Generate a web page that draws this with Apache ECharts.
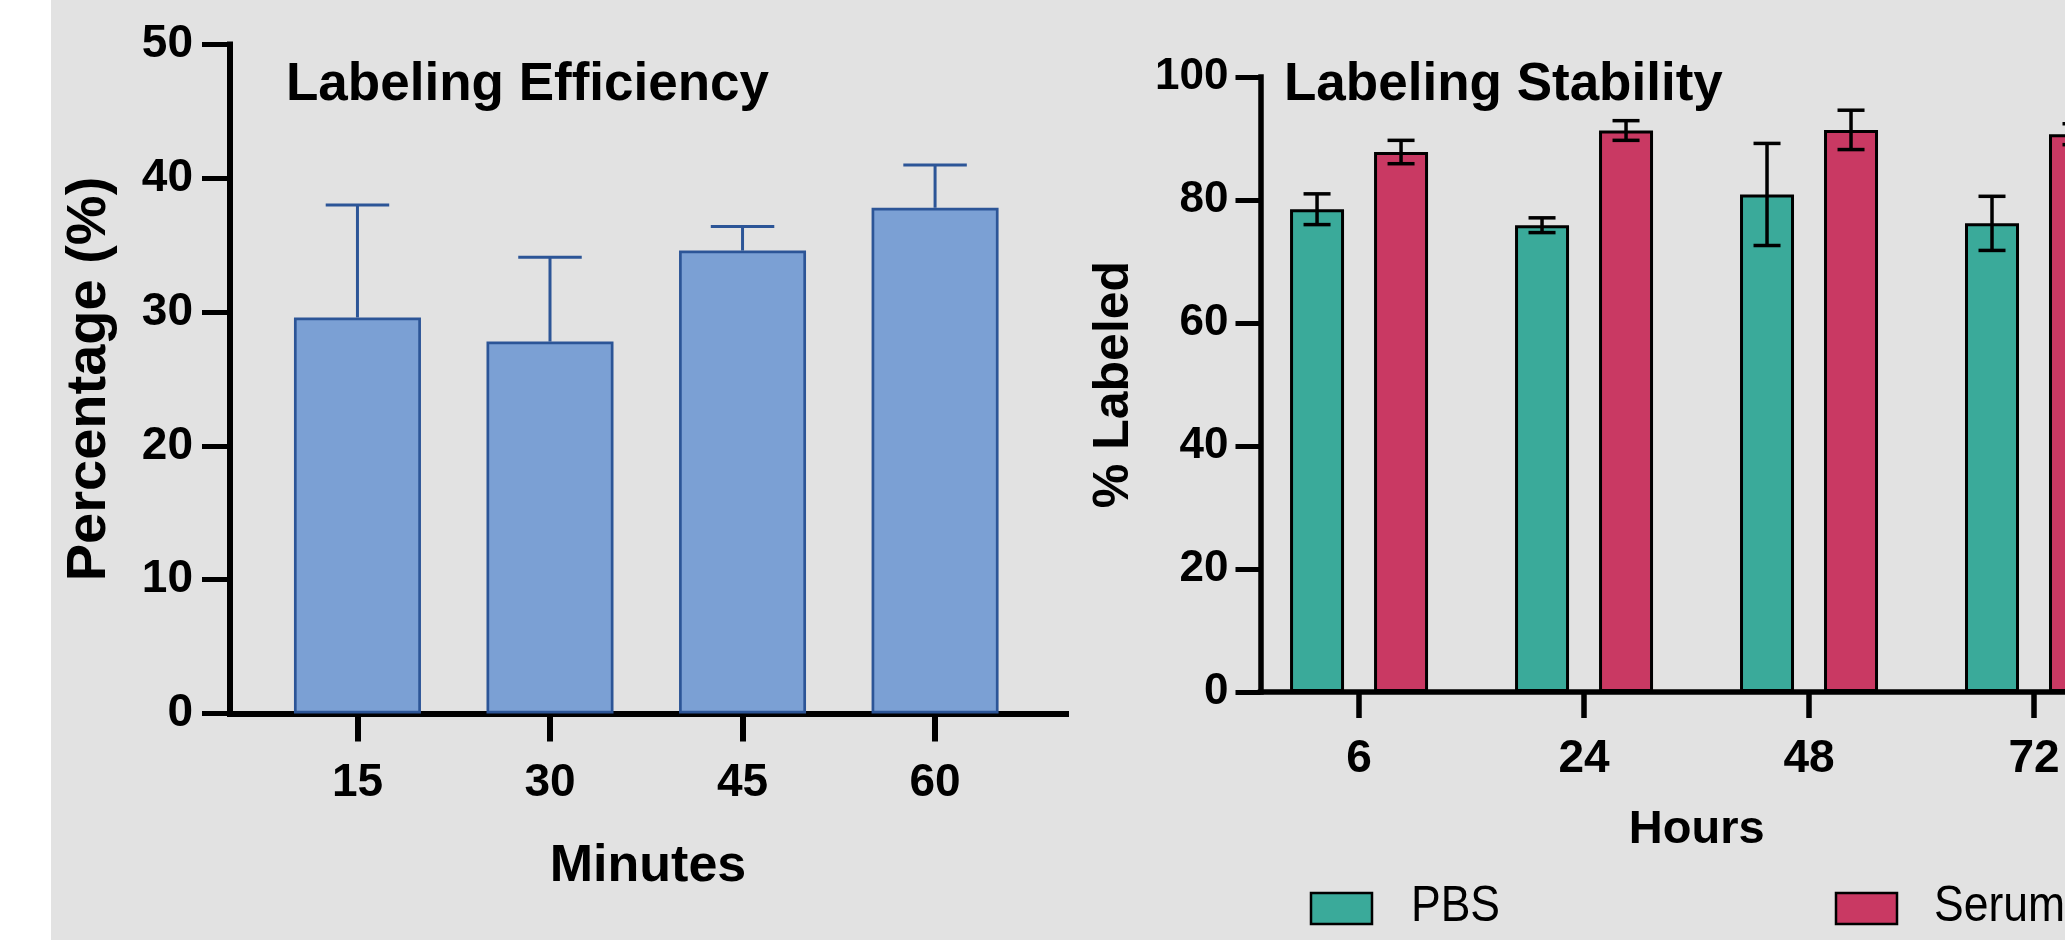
<!DOCTYPE html>
<html>
<head>
<meta charset="utf-8">
<title>Labeling Efficiency and Stability</title>
<script src="https://cdn.jsdelivr.net/npm/echarts@6/dist/echarts.min.js"></script>
<style>
  html, body { margin: 0; padding: 0; overflow: hidden; background: #ffffff; }
  #chart {
    width: 2065px; height: 940px;
    background: linear-gradient(to right, #ffffff 0 51px, #e2e2e2 51px);
  }
</style>
</head>
<body>
<div id="chart"></div>
<script>
// ---- data ----
const minutes = ['15', '30', '45', '60'];
const efficiency = [29.6, 27.8, 34.6, 37.8];
const efficiencySd = [8.4, 6.3, 1.8, 3.2];

const hours = ['6', '24', '48', '72'];
const seriesNames = ['PBS', 'Serum'];
const pbs = [78.5, 75.9, 80.9, 76.2];
const pbsSd = [2.5, 1.2, 8.3, 4.4];
const serum = [87.8, 91.3, 91.4, 90.7];
const serumSd = [1.9, 1.6, 3.2, 1.7];

// ---- styling ----
const FONT = "'Liberation Sans', Arial, Helvetica, sans-serif";
const BLUE_FILL = '#7ba0d4';
const BLUE_EDGE = '#2c5597';
const TEAL = '#3aaa9a';
const CRIMSON = '#c93963';

const EFF_BAR_W = 127;
const STAB_BAR_W = 54;
const STAB_GAP = 30;
const STAB_OFFSET = (STAB_BAR_W + STAB_GAP) / 2;

const idx = arr => arr.map((_, i) => i);

function errorBars(offsetPx, capWidth, color, lineWidth, upperOnly) {
  return function (params, api) {
    const x = api.value(0), m = api.value(1), sd = api.value(2);
    const top = api.coord([x, m + sd]);
    const mid = api.coord([x, m]);
    const bot = api.coord([x, m - sd]);
    const cx = top[0] + offsetPx;
    const half = capWidth / 2;
    const style = { stroke: color, lineWidth: lineWidth, lineCap: 'butt' };
    const children = [
      { type: 'line', shape: { x1: cx, y1: upperOnly ? mid[1] : bot[1], x2: cx, y2: top[1] }, style },
      { type: 'line', shape: { x1: cx - half, y1: top[1], x2: cx + half, y2: top[1] }, style }
    ];
    if (!upperOnly) {
      children.push({ type: 'line', shape: { x1: cx - half, y1: bot[1], x2: cx + half, y2: bot[1] }, style });
    }
    return { type: 'group', children };
  };
}

function axisLineStyle(w) {
  return { show: true, onZero: false, lineStyle: { color: '#000', width: w, cap: 'square' } };
}

const chart = echarts.init(document.getElementById('chart'), null, { renderer: 'canvas' });

const option = {
  backgroundColor: 'transparent',
  animation: false,
  textStyle: { fontFamily: FONT },
  title: [
    {
      text: 'Labeling Efficiency', left: 286, top: 59, padding: 0,
      textStyle: { fontFamily: FONT, fontSize: 53, fontWeight: 'bold', color: '#000' }
    },
    {
      text: 'Labeling Stability', left: 1284, top: 59, padding: 0,
      textStyle: { fontFamily: FONT, fontSize: 53, fontWeight: 'bold', color: '#000' }
    }
  ],
  grid: [
    { left: 230, top: 44.5, width: 836, height: 669, containLabel: false, outerBoundsMode: 'none' },
    { left: 1260.5, top: 77, width: 872.5, height: 615, containLabel: false, outerBoundsMode: 'none' }
  ],
  xAxis: [
    {
      gridIndex: 0, type: 'value', min: -0.662, max: 3.68,
      name: 'Minutes', nameLocation: 'middle', nameGap: 127,
      nameTextStyle: { fontFamily: FONT, fontSize: 52, fontWeight: 'bold', color: '#000' },
      axisLine: axisLineStyle(6),
      axisTick: { show: true, customValues: idx(minutes), length: 28, lineStyle: { color: '#000', width: 6 } },
      axisLabel: {
        show: true, customValues: idx(minutes), margin: 47,
        formatter: v => minutes[Math.round(v)],
        fontFamily: FONT, fontSize: 46, fontWeight: 'bold', color: '#000'
      },
      splitLine: { show: false }
    },
    {
      gridIndex: 1, type: 'value', min: -0.438, max: 3.44,
      name: 'Hours', nameLocation: 'middle', nameGap: 115,
      nameTextStyle: { fontFamily: FONT, fontSize: 47, fontWeight: 'bold', color: '#000' },
      axisLine: axisLineStyle(5.5),
      axisTick: { show: true, customValues: idx(hours), length: 26, lineStyle: { color: '#000', width: 5.5 } },
      axisLabel: {
        show: true, customValues: idx(hours), margin: 44,
        formatter: v => hours[Math.round(v)],
        fontFamily: FONT, fontSize: 46, fontWeight: 'bold', color: '#000'
      },
      splitLine: { show: false }
    }
  ],
  yAxis: [
    {
      gridIndex: 0, type: 'value', min: 0, max: 50, interval: 10,
      name: 'Percentage (%)', nameLocation: 'middle', nameGap: 112,
      nameTextStyle: { fontFamily: FONT, fontSize: 56, fontWeight: 'bold', color: '#000' },
      axisLine: axisLineStyle(6),
      axisTick: { show: true, length: 28, lineStyle: { color: '#000', width: 5 } },
      axisLabel: { margin: 37, fontFamily: FONT, fontSize: 46, fontWeight: 'bold', color: '#000' },
      splitLine: { show: false }
    },
    {
      gridIndex: 1, type: 'value', min: 0, max: 100, interval: 20,
      name: '% Labeled', nameLocation: 'middle', nameGap: 121,
      nameTextStyle: { fontFamily: FONT, fontSize: 50, fontWeight: 'bold', color: '#000' },
      axisLine: axisLineStyle(5.5),
      axisTick: { show: true, length: 25, lineStyle: { color: '#000', width: 5 } },
      axisLabel: { margin: 32, fontFamily: FONT, fontSize: 44, fontWeight: 'bold', color: '#000' },
      splitLine: { show: false }
    }
  ],
  series: [
    {
      name: 'Labeling Efficiency', type: 'bar', xAxisIndex: 0, yAxisIndex: 0,
      barWidth: EFF_BAR_W,
      itemStyle: { color: BLUE_FILL, borderColor: BLUE_EDGE, borderWidth: 2.7 },
      data: efficiency.map((v, i) => [i, v]),
      z: 2
    },
    {
      name: 'Efficiency SD', type: 'custom', xAxisIndex: 0, yAxisIndex: 0,
      renderItem: errorBars(0, EFF_BAR_W / 2, BLUE_EDGE, 3, true),
      data: efficiency.map((v, i) => [i, v, efficiencySd[i]]),
      encode: { x: 0, y: 1 },
      z: 3
    },
    {
      name: seriesNames[0], type: 'bar', xAxisIndex: 1, yAxisIndex: 1,
      barWidth: STAB_BAR_W, barGap: (STAB_GAP / STAB_BAR_W * 100) + '%',
      itemStyle: { color: TEAL, borderColor: '#000', borderWidth: 3 },
      data: pbs.map((v, i) => [i, v]),
      z: 2
    },
    {
      name: seriesNames[1], type: 'bar', xAxisIndex: 1, yAxisIndex: 1,
      barWidth: STAB_BAR_W, barGap: (STAB_GAP / STAB_BAR_W * 100) + '%',
      itemStyle: { color: CRIMSON, borderColor: '#000', borderWidth: 3 },
      data: serum.map((v, i) => [i, v]),
      z: 2
    },
    {
      name: 'PBS SD', type: 'custom', xAxisIndex: 1, yAxisIndex: 1,
      renderItem: errorBars(-STAB_OFFSET, STAB_BAR_W / 2, '#000', 3.5, false),
      data: pbs.map((v, i) => [i, v, pbsSd[i]]),
      encode: { x: 0, y: 1 },
      z: 3
    },
    {
      name: 'Serum SD', type: 'custom', xAxisIndex: 1, yAxisIndex: 1,
      renderItem: errorBars(STAB_OFFSET, STAB_BAR_W / 2, '#000', 3.5, false),
      data: serum.map((v, i) => [i, v, serumSd[i]]),
      encode: { x: 0, y: 1 },
      z: 3
    }
  ],
  // legend for the stability panel: swatch plus condensed label
  graphic: [
    { type: 'rect', shape: { x: 1311, y: 893, width: 61, height: 31 },
      style: { fill: TEAL, stroke: '#000', lineWidth: 2.5 } },
    { type: 'text', x: 1411, y: 907.5, scaleX: 0.89,
      style: { text: seriesNames[0], x: 0, y: 0, fill: '#000', font: '50px ' + FONT, verticalAlign: 'middle', align: 'left' } },
    { type: 'rect', shape: { x: 1836, y: 893, width: 61, height: 31 },
      style: { fill: CRIMSON, stroke: '#000', lineWidth: 2.5 } },
    { type: 'text', x: 1934, y: 907.5, scaleX: 0.89,
      style: { text: seriesNames[1], x: 0, y: 0, fill: '#000', font: '50px ' + FONT, verticalAlign: 'middle', align: 'left' } }
  ]
};

chart.setOption(option);
</script>
</body>
</html>
